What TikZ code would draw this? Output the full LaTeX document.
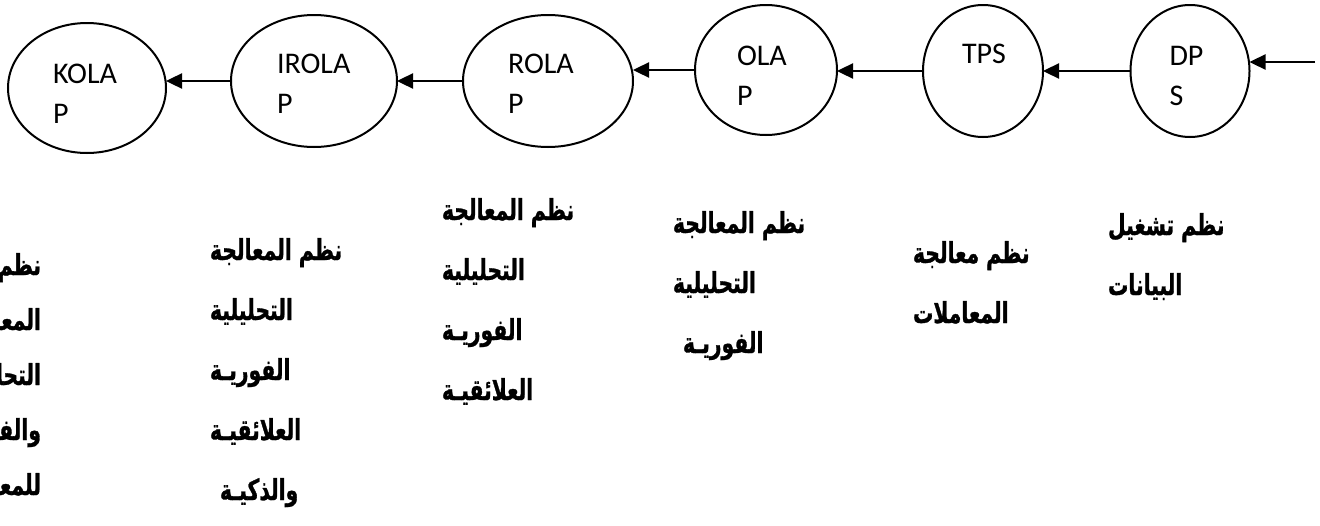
\documentclass[tikz,border=0pt]{standalone}
\usepackage{fontspec}
\setmainfont{Carlito}
\newfontfamily\arabicfont[Script=Arabic, FakeStretch=0.7, BoldFeatures={FakeBold=1}]{DejaVu Sans}
\TeXXeTstate=1
\usetikzlibrary{calc,shapes.geometric,arrows.meta}

\tikzset{
  sys/.style={draw, ellipse, line width=2pt},
  tag/.style={anchor=north west, align=left, font=\fontsize{30}{40}\selectfont},
  desc/.style={anchor=north west, align=left, font=\arabicfont\bfseries\fontsize{29}{60}\selectfont},
  flow/.style={line width=2.4pt, -{Triangle[length=16pt,width=15pt]}}
}

\begin{document}
\begin{tikzpicture}[x=1pt, y=-1pt, inner sep=0pt, outer sep=0pt]
    \useasboundingbox (0,0) rectangle (1320,525);

    % systems
    \node[sys, minimum width=158pt, minimum height=130pt] (kolap) at (87,88) {};
    \node[sys, minimum width=166pt, minimum height=132pt] (irolap) at (314,81) {};
    \node[sys, minimum width=170pt, minimum height=132pt] (rolap) at (548,81) {};
    \node[sys, minimum width=142pt, minimum height=130pt] (olap) at (766,70) {};
    \node[sys, minimum width=120pt, minimum height=132pt] (tps) at (983,71) {};
    \node[sys, minimum width=119pt, minimum height=132pt] (dps) at (1190,71) {};

    % names in the systems
    \node[tag] (kolap_t) at ($(kolap.west |- kolap.north)+(45,41)$) {KOLA\\P};
    \node[tag] (irolap_t) at ($(irolap.west |- irolap.north)+(46,39)$) {IROLA\\P};
    \node[tag] (rolap_t) at ($(rolap.west |- rolap.north)+(45,39)$) {ROLA\\P};
    \node[tag] (olap_t) at ($(olap.west |- olap.north)+(42,41)$) {OLA\\P};
    \node[tag] (tps_t) at ($(tps.west |- tps.north)+(39,39)$) {TPS};
    \node[tag] (dps_t) at ($(dps.west |- dps.north)+(39,41)$) {DP\\S};

    % flow
    \coordinate (input) at (1315,62);
    \draw[flow] (input) -- (input -| dps.east);
    \draw[flow] (dps.west) -- (dps.west -| tps.east);
    \draw[flow] (tps.west) -- (tps.west -| olap.east);
    \draw[flow] (olap.west) -- (olap.west -| rolap.east);
    \draw[flow] (rolap.west) -- (rolap.west -| irolap.east);
    \draw[flow] (irolap.west) -- (irolap.west -| kolap.east);

    % descriptions
    \node[desc] (dps_d) at (1108,213)
    {\beginR نظم تشغيل\endR\\
     \beginR البيانات\endR};

    \node[desc] (tps_d) at (913,241)
    {\beginR نظم معالجة\endR\\
     \beginR المعاملات\endR};

    \node[desc] (olap_d) at (673,211)
    {\beginR نظم المعالجة\endR\\
     \beginR التحليلية\endR\\
     \hspace*{10pt}\beginR الفوريـة\endR};

    \node[desc] (rolap_d) at (442,198)
    {\beginR نظم المعالجة\endR\\
     \beginR التحليلية\endR\\
     \beginR الفوريـة\endR\\
     \beginR العلائقيـة\endR};

    \node[desc] (irolap_d) at (210,238)
    {\beginR نظم المعالجة\endR\\
     \beginR التحليلية\endR\\
     \beginR الفوريـة\endR\\
     \beginR العلائقيـة\endR\\
     \hspace*{10pt}\beginR والذكيـة\endR};

    \node[desc, anchor=north east, align=right, font=\arabicfont\bfseries\fontsize{29}{55}\selectfont] (kolap_d) at (41,253)
    {\beginR نظم\endR\\
     \beginR المعالجة\endR\\
     \beginR التحليلية\endR\\
     \beginR والفوريـة\endR\\
     \beginR للمعرفة\endR};

\end{tikzpicture}
\end{document}
